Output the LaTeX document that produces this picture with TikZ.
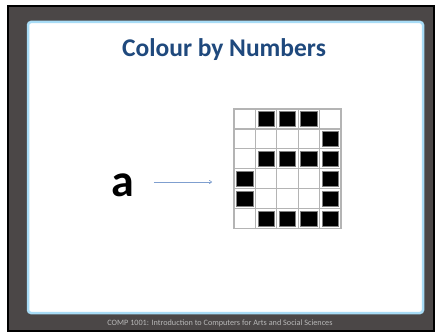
\documentclass[tikz,border=0pt]{standalone}
\usepackage{fontspec}
\setmainfont{Carlito}
\usepackage{tikz}
\usetikzlibrary{positioning, calc, arrows.meta}
\usepackage{xcolor}
\definecolor{frame}{HTML}{4b4747}
\definecolor{glow}{HTML}{a8dcf6}
\definecolor{titleblue}{HTML}{1f497d}
\definecolor{arrowblue}{HTML}{7f9fcf}
\definecolor{footgray}{HTML}{b8b8b8}
\definecolor{cellgray}{HTML}{b4b4b4}

\begin{document}
\begin{tikzpicture}[
    x=1pt, y=-1pt,
    panel/.style={draw=glow, line width=2.5pt, fill=white, rounded corners=3pt},
    cell/.style={draw=cellgray, line width=1.2pt, fill=white},
    pixel/.style={fill=black, draw=gray, line width=0.8pt},
    flow/.style={draw=arrowblue, line width=0.6pt, -{To[length=3pt, width=4pt]}},
]
\useasboundingbox (0,0) rectangle (435,334);

% Slide frame and panel
\draw[black, line width=2pt, fill=frame] (8,6) rectangle (434,331);
\draw[panel] (28,22) rectangle (423,313);

% Title
\node[font=\bfseries\fontsize{25.5}{29}\selectfont, text=titleblue] (title) at (224,50) {Colour by Numbers};

% Letter and arrow
\node[font=\bfseries\fontsize{46}{50}\selectfont, anchor=base] (letter) at (123,196) {a};
\coordinate (tip) at (212,182);
\draw[flow, shorten <=16pt] (letter.east |- tip) -- (tip);

% Pixel grid: 5 columns, 6 rows
\coordinate (grid) at (234,109);
\foreach \c in {0,...,4}
  \foreach \r in {0,...,5}
    \draw[cell] ($(grid)+(\c*21.4,\r*19.9)$) rectangle ++(21.4,19.9);
\foreach \c/\r in {1/0,2/0,3/0, 4/1, 1/2,2/2,3/2,4/2, 0/3,4/3, 0/4,4/4, 1/5,2/5,3/5,4/5}
  \draw[pixel] ($(grid)+(\c*21.4+2.5,\r*19.9+2.5)$) rectangle ++(16.4,14.9);

% Footer
\node[font=\fontsize{8.2}{9}\selectfont, text=footgray] (footer) at (220,323) {COMP 1001: Introduction to Computers for Arts and Social Sciences};
\end{tikzpicture}
\end{document}
